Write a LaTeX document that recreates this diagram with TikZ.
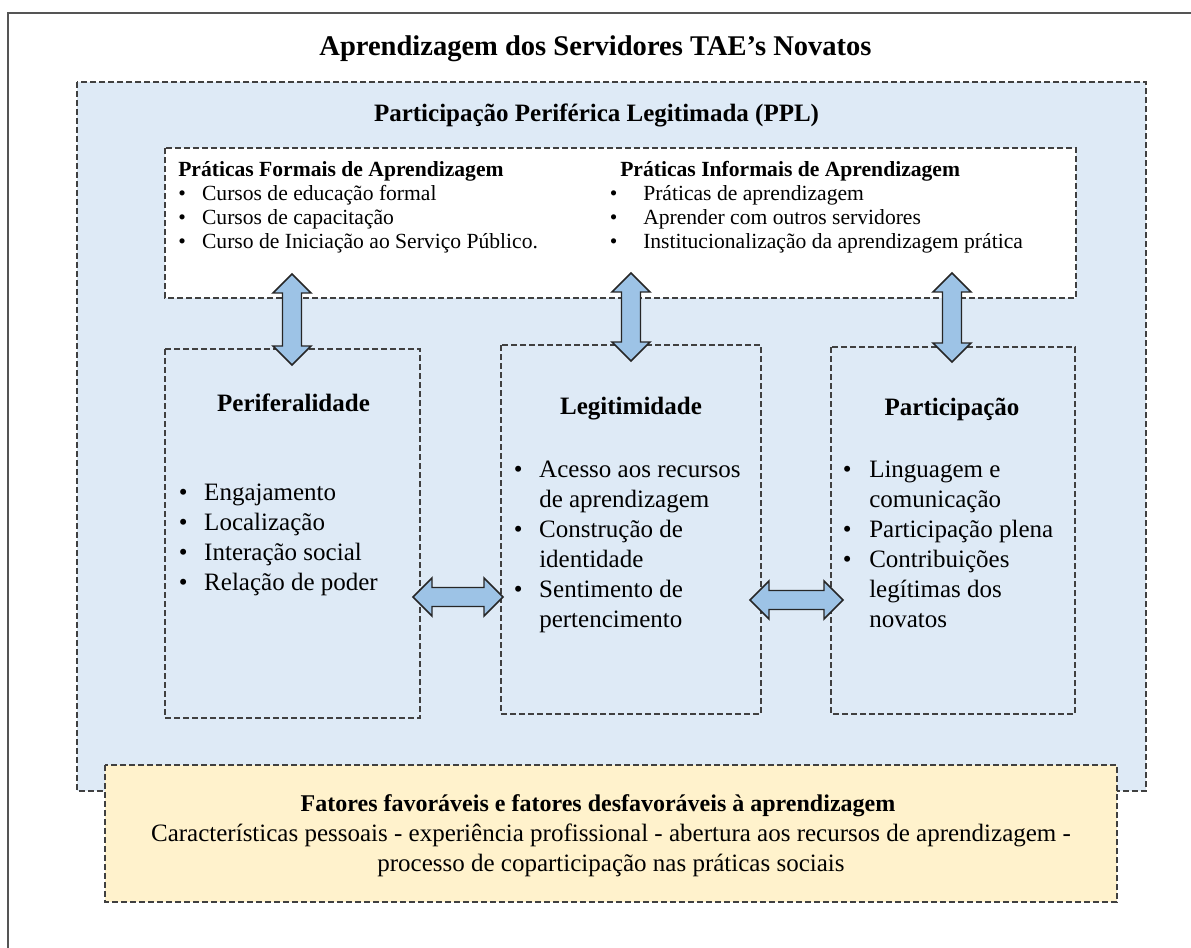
\documentclass[tikz,border=0pt]{standalone}
\usepackage{fontspec}
\setmainfont{Liberation Serif}
\definecolor{pplblue}{HTML}{DEEAF6}
\definecolor{factyellow}{HTML}{FFF2CC}
\definecolor{arrowblue}{HTML}{9DC3E6}
\definecolor{dashgray}{HTML}{404040}
\definecolor{framegray}{HTML}{555555}
\newlength\px \setlength\px{0.75pt}
\newcommand\bl[2]{\makebox[#1\px][l]{\textbullet}#2}
\newcommand\ct[2]{\hspace*{#1\px}#2}
\newcommand\varrowd[3]{\draw[blockarrow] (#1,#2) -- (#1+19,#2+19) -- (#1+9.5,#2+19) -- (#1+9.5,#3-19) -- (#1+19,#3-19) -- (#1,#3) -- (#1-19,#3-19) -- (#1-9.5,#3-19) -- (#1-9.5,#2+19) -- (#1-19,#2+19) -- cycle;}
\newcommand\harrowd[3]{\draw[blockarrow] (#2,#1) -- (#2+19,#1-19) -- (#2+19,#1-9.5) -- (#3-19,#1-9.5) -- (#3-19,#1-19) -- (#3,#1) -- (#3-19,#1+19) -- (#3-19,#1+9.5) -- (#2+19,#1+9.5) -- (#2+19,#1+19) -- cycle;}
\begin{document}
\begin{tikzpicture}[x=0.75pt,y=-0.75pt,
  dbox/.style={draw=dashgray, line width=1.1pt, dash pattern=on 4.5pt off 2.25pt},
  blockarrow/.style={draw=black!85, fill=arrowblue, line width=1.1pt, line join=miter},
  ttl/.style={font=\fontsize{21.4}{25}\selectfont\bfseries, inner sep=0, anchor=base},
  hd/.style={font=\fontsize{18.75}{22.5}\selectfont\bfseries, inner sep=0, anchor=base},
  lst/.style={font=\fontsize{18.75}{22.5}\selectfont, inner sep=0, anchor=base west, align=left},
  smhd/.style={font=\fontsize{16.2}{18}\selectfont\bfseries, inner sep=0, anchor=base west},
  smlst/.style={font=\fontsize{16.2}{18}\selectfont, inner sep=0, anchor=base west, align=left},
  bothd/.style={font=\fontsize{18}{22.5}\selectfont\bfseries, inner sep=0, anchor=base},
  bottxt/.style={font=\fontsize{18.75}{22.5}\selectfont, inner sep=0, anchor=base, align=center}]
\useasboundingbox (0,0) rectangle (1191,948);
% outer frame (clipped at right and bottom)
\draw[framegray, line width=1.5pt] (8,960) -- (8,13) -- (1200,13);
% boxes
\draw[dbox, fill=pplblue] (77,82) rectangle (1146,791);
\draw[dbox, fill=factyellow] (105,765) rectangle (1117,902);
\draw[dbox, fill=white] (165,148) rectangle (1076,298);
\draw[dbox] (165,349) rectangle (420,718);
\draw[dbox] (501,345) rectangle (761,714);
\draw[dbox] (831,347) rectangle (1075,714);
% block arrows
\varrowd{292}{274}{365}
\varrowd{631}{273}{361}
\varrowd{952}{273}{362}
\harrowd{597}{413}{503}
\harrowd{600}{750}{843}
% texts (multi-line nodes are anchored at their last baseline)
\node[ttl] (title) at (595.5,56) {Aprendizagem dos Servidores TAE’s Novatos};
\node[hd] (ppl) at (596.5,122) {Participação Periférica Legitimada (PPL)};
\node[smhd] (formhd) at (178,177) {Práticas Formais de Aprendizagem};
\node[smlst] (formlst) at (178.2,249) {\bl{23.6}{Cursos de educação formal}\\\bl{23.6}{Cursos de capacitação}\\\bl{23.6}{Curso de Iniciação ao Serviço Público.}};
\node[smhd] (infhd) at (620,177) {Práticas Informais de Aprendizagem};
\node[smlst] (inflst) at (609.5,249) {\bl{33.5}{Práticas de aprendizagem}\\\bl{33.5}{Aprender com outros servidores}\\\bl{33.5}{Institucionalização da aprendizagem prática}};
\node[hd] (perihd) at (293.5,411) {Periferalidade};
\node[lst] (perilst) at (178.6,590) {\bl{25.4}{Engajamento}\\\bl{25.4}{Localização}\\\bl{25.4}{Interação social}\\\bl{25.4}{Relação de poder}};
\node[hd] (legithd) at (631,414) {Legitimidade};
\node[lst] (legitlst) at (513.6,627) {\bl{25.4}{Acesso aos recursos}\\\ct{25.4}{de aprendizagem}\\\bl{25.4}{Construção de}\\\ct{25.4}{identidade}\\\bl{25.4}{Sentimento de}\\\ct{25.4}{pertencimento}};
\node[hd] (parthd) at (952,415) {Participação};
\node[lst] (partlst) at (842.6,627) {\bl{26.4}{Linguagem e}\\\ct{26.4}{comunicação}\\\bl{26.4}{Participação plena}\\\bl{26.4}{Contribuições}\\\ct{26.4}{legítimas dos}\\\ct{26.4}{novatos}};
\node[bothd] (fathd) at (598,811) {Fatores favoráveis e fatores desfavoráveis à aprendizagem};
\node[bottxt] (fattxt) at (611,871) {Características pessoais - experiência profissional - abertura aos recursos de aprendizagem -\\processo de coparticipação nas práticas sociais};
\end{tikzpicture}
\end{document}
